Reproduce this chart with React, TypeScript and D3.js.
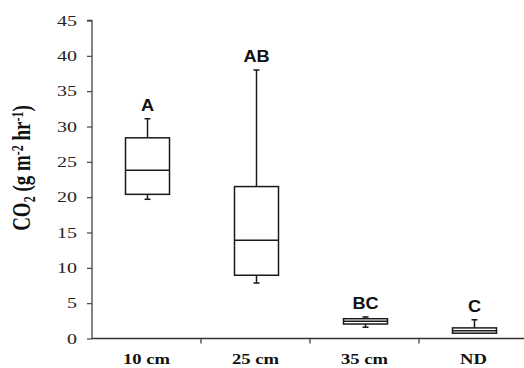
import React, { useRef, useEffect } from "react";
import * as d3 from "d3";

// box plot stats
const categories = ["10 cm", "25 cm", "35 cm", "ND"];
const whiskerMin = [19.7, 7.85, 1.6, 0.75];
const q1 = [20.4, 8.95, 2.05, 0.75];
const medians = [23.8, 13.9, 2.45, 1.1];
const q3 = [28.4, 21.5, 2.8, 1.5];
const whiskerMax = [31.1, 38.0, 3.05, 2.65];
const groupLetters = ["A", "AB", "BC", "C"];
const yTicks = [0, 5, 10, 15, 20, 25, 30, 35, 40, 45];

const W = 524;
const H = 368;
// the original figure is stretched sideways, so glyphs are wider than tall
const stretch = 1.33;

const BoxChart = () => {
    const ref = useRef<SVGSVGElement>(null);

    useEffect(() => {
        const svg = d3.select(ref.current);
        svg.selectAll("*").remove();

        const left = 92;
        const top = 20.5;
        const bottom = 338.5;
        const right = 528;

        const y = d3.scaleLinear().domain([0, 45]).range([bottom, top]);
        const x = d3.scaleBand().domain(categories).range([left, right]).padding(0);

        const g = svg.append("g");

        // y axis
        const yAxis = g
            .append("g")
            .attr("transform", `translate(${left},0)`)
            .call(d3.axisLeft(y).tickValues(yTicks).tickSize(5).tickPadding(10));
        yAxis.select(".domain").attr("stroke", "#444").attr("stroke-width", 1.3)
            .attr("d", `M-5,${top}H0V${bottom}`);
        yAxis.selectAll(".tick line").attr("stroke", "#444").attr("stroke-width", 1.2);
        yAxis
            .selectAll(".tick text")
            .attr("fill", "#222")
            .attr("x", -15 / stretch)
            .attr("transform", `scale(${stretch},1)`)
            .style("font-family", "Liberation Serif, serif")
            .style("font-size", "15px");

        // x axis
        const xAxis = g
            .append("g")
            .attr("transform", `translate(0,${bottom})`)
            .call(d3.axisBottom(x).tickSize(0).tickPadding(16));
        xAxis.select(".domain").attr("stroke", "#333").attr("stroke-width", 1.3)
            .attr("d", `M${left},0H${right}`);
        xAxis
            .selectAll(".tick text")
            .attr("fill", "#111")
            .attr("transform", `scale(${stretch},1)`)
            .style("font-family", "Liberation Serif, serif")
            .style("font-weight", "bold")
            .style("font-size", "14px");
        // boundary ticks between categories
        xAxis
            .selectAll(".sep")
            .data(categories.slice(1))
            .enter()
            .append("line")
            .attr("x1", (d) => x(d)!)
            .attr("x2", (d) => x(d)!)
            .attr("y1", 0)
            .attr("y2", 5)
            .attr("stroke", "#333")
            .attr("stroke-width", 1.2);

        // y title
        const title = g
            .append("text")
            .attr("transform", `translate(30,168) scale(${stretch},1) rotate(-90)`)
            .attr("text-anchor", "middle")
            .attr("fill", "#111")
            .style("font-family", "Liberation Serif, serif")
            .style("font-weight", "bold")
            .style("font-size", "19px");
        title.append("tspan").text("CO");
        title.append("tspan").text("2").attr("baseline-shift", "-25%").style("font-size", "12px");
        title.append("tspan").text(" (g m");
        title.append("tspan").text("-2").attr("baseline-shift", "45%").style("font-size", "12px");
        title.append("tspan").text(" hr");
        title.append("tspan").text("-1").attr("baseline-shift", "45%").style("font-size", "12px");
        title.append("tspan").text(")");

        const boxW = 44;
        const capW = 6;
        const rows = categories.map((c, i) => ({
            c,
            min: whiskerMin[i],
            q1: q1[i],
            med: medians[i],
            q3: q3[i],
            max: whiskerMax[i],
            letter: groupLetters[i],
        }));

        const box = g
            .selectAll(".box")
            .data(rows)
            .enter()
            .append("g")
            .attr("transform", (d) => `translate(${x(d.c)! + x.bandwidth() / 2 + 1},0)`);

        const ink = "#1a1a1a";
        box.append("line")
            .attr("y1", (d) => y(d.max))
            .attr("y2", (d) => y(d.q3))
            .attr("stroke", ink)
            .attr("stroke-width", 1.5);
        box.append("line")
            .attr("y1", (d) => y(d.min))
            .attr("y2", (d) => y(d.q1))
            .attr("stroke", ink)
            .attr("stroke-width", 1.5);
        box.append("line")
            .attr("x1", -capW / 2)
            .attr("x2", capW / 2)
            .attr("y1", (d) => y(d.max))
            .attr("y2", (d) => y(d.max))
            .attr("stroke", ink)
            .attr("stroke-width", 1.5);
        box.append("line")
            .attr("x1", -capW / 2)
            .attr("x2", capW / 2)
            .attr("y1", (d) => y(d.min))
            .attr("y2", (d) => y(d.min))
            .attr("stroke", ink)
            .attr("stroke-width", 1.5);
        box.append("rect")
            .attr("x", -boxW / 2)
            .attr("width", boxW)
            .attr("y", (d) => y(d.q3))
            .attr("height", (d) => y(d.q1) - y(d.q3))
            .attr("fill", "white")
            .attr("stroke", ink)
            .attr("stroke-width", 1.5);
        box.append("line")
            .attr("x1", -boxW / 2)
            .attr("x2", boxW / 2)
            .attr("y1", (d) => y(d.med))
            .attr("y2", (d) => y(d.med))
            .attr("stroke", ink)
            .attr("stroke-width", 1.5);
        box.append("text")
            .text((d) => d.letter)
            .attr("transform", (d) => `translate(0,${y(d.max) - 8}) scale(1.1,1)`)
            .attr("text-anchor", "middle")
            .attr("fill", "#111")
            .style("font-family", "Liberation Sans, sans-serif")
            .style("font-weight", "bold")
            .style("font-size", "16.5px");
    });

    return (
        <svg
            ref={ref}
            width={W}
            height={H}
            style={{ position: "absolute", left: 0, top: 0, background: "white" }}
        />
    );
};

export default function App() {
    return <BoxChart />;
}
